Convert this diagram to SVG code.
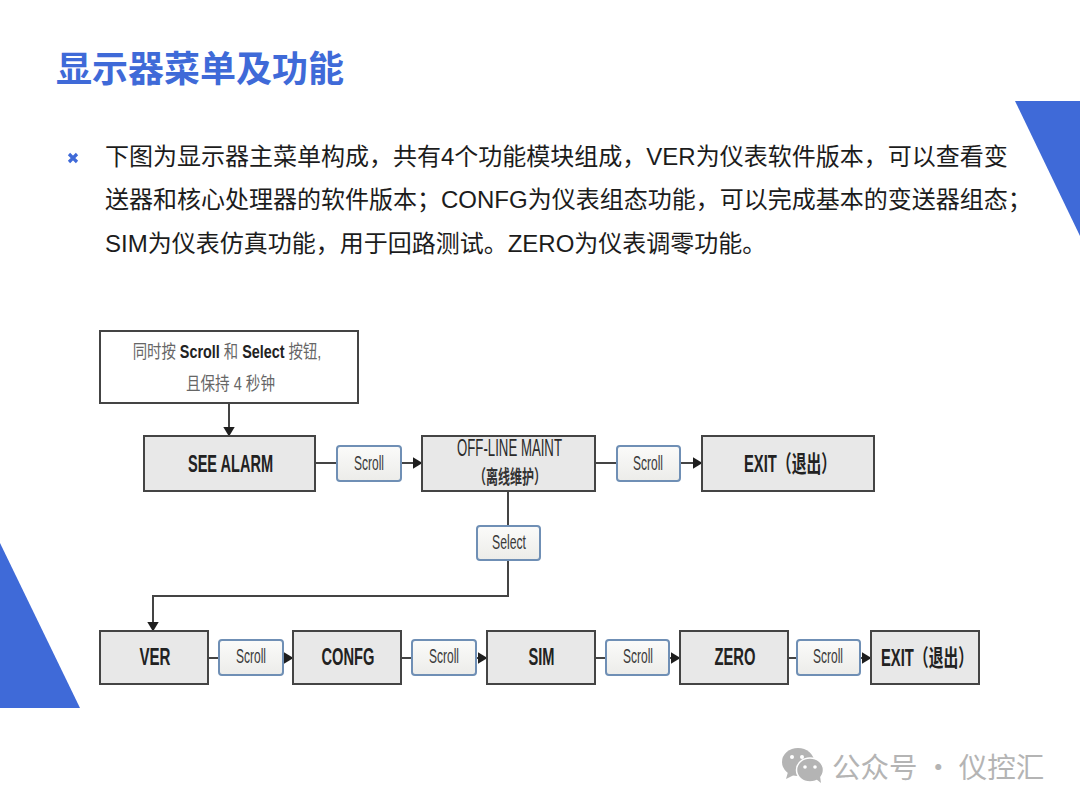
<svg xmlns="http://www.w3.org/2000/svg" width="1080" height="810" viewBox="0 0 1080 810">
<style>
text{font-family:"Liberation Sans","Noto Sans CJK SC",sans-serif}
.title{font-family:"Noto Sans CJK SC",sans-serif;font-size:36px;font-weight:700;fill:#3f6ad8}
.body{font-size:24px;fill:#1c1c1c}
.box{fill:#e8e8e8;stroke:#444;stroke-width:2}
.start{fill:#fff;stroke:#444;stroke-width:2}
.btn{fill:url(#btnfill);stroke:#6f8fb5;stroke-width:2}
.lbl{font-size:23px;font-weight:700;fill:#222;text-anchor:middle}
.sm{font-size:21px;fill:#3a3a3a;text-anchor:middle}
.cn{font-size:18px;fill:#666;text-anchor:middle}
.cnb{font-weight:700;fill:#222}
.wire{fill:none;stroke:#444;stroke-width:2}
.wm{font-family:"Noto Sans CJK SC",sans-serif;font-size:28.500px;fill:#b4b4b4}
</style>
<defs>
<linearGradient id="btnfill" x1="0" y1="0" x2="0" y2="1"><stop offset="0" stop-color="#fbfbfa"/><stop offset="1" stop-color="#ecece9"/></linearGradient>
<marker id="arr" viewBox="0 0 10 12" refX="9.500" refY="6" markerWidth="10" markerHeight="12" markerUnits="userSpaceOnUse" orient="auto"><path d="M0,0L10,6L0,12Z" fill="#1e1e1e"/></marker>
</defs>
<rect width="1080" height="810" fill="#fff"/>
<polygon points="1015,101 1080,101 1080,236" fill="#3f6ad8"/>
<polygon points="0,543 80,708 0,708" fill="#3f6ad8"/>
<text class="title" x="56" y="82">显示器菜单及功能</text>
<path d="M69,154L77,162M77,154L69,162" stroke="#3f6ad8" stroke-width="3.200" fill="none"/>
<text class="body" x="105" y="165">下图为显示器主菜单构成，共有4个功能模块组成，VER为仪表软件版本，可以查看变</text>
<text class="body" x="105" y="208">送器和核心处理器的软件版本；CONFG为仪表组态功能，可以完成基本的变送器组态；</text>
<text class="body" x="105" y="252">SIM为仪表仿真功能，用于回路测试。ZERO为仪表调零功能。</text>
<g id="connectors">
<path class="wire" d="M229,403V436" marker-end="url(#arr)"/>
<path class="wire" d="M315,463H422" marker-end="url(#arr)"/>
<path class="wire" d="M595,463H702" marker-end="url(#arr)"/>
<path class="wire" d="M508,491V596H153V631" marker-end="url(#arr)"/>
<path class="wire" d="M208,658H293" marker-end="url(#arr)"/>
<path class="wire" d="M401,658H487" marker-end="url(#arr)"/>
<path class="wire" d="M595,658H680" marker-end="url(#arr)"/>
<path class="wire" d="M788,658H871" marker-end="url(#arr)"/>
</g>
<g id="start"><rect class="start" x="100" y="331" width="258" height="72"/>
<text class="cn" transform="translate(227,358) scale(.8,1)">同时按 <tspan class="cnb">Scroll</tspan> 和 <tspan class="cnb">Select</tspan> 按钮,</text>
<text class="cn" x="230.500" y="390" textLength="89" lengthAdjust="spacingAndGlyphs">且保持 4 秒钟</text></g>
<g id="see-alarm"><rect class="box" x="144" y="436" width="171" height="55"/><text class="lbl" x="230.500" y="472" textLength="85" lengthAdjust="spacingAndGlyphs">SEE ALARM</text></g>
<g id="scroll-1"><rect class="btn" x="337" y="446" width="64" height="35" rx="3"/><text class="sm" x="369" y="470" textLength="30" lengthAdjust="spacingAndGlyphs">Scroll</text></g>
<g id="off-line"><rect class="box" x="422" y="436" width="173" height="55"/>
<text class="sm" x="509.500" y="456" textLength="105" lengthAdjust="spacingAndGlyphs" style="font-size:23px;fill:#2a2a2a">OFF-LINE MAINT</text>
<text class="sm" x="510" y="484" textLength="72" lengthAdjust="spacingAndGlyphs" style="font-size:19px;font-weight:700;fill:#333">（离线维护）</text></g>
<g id="scroll-2"><rect class="btn" x="617" y="446" width="63" height="35" rx="3"/><text class="sm" x="648" y="470" textLength="30" lengthAdjust="spacingAndGlyphs">Scroll</text></g>
<g id="exit-1"><rect class="box" x="702" y="436" width="172" height="55"/><text class="lbl" x="790" y="472" textLength="92" lengthAdjust="spacingAndGlyphs">EXIT（退出）</text></g>
<g id="select"><rect class="btn" x="477" y="526" width="63" height="34" rx="3"/><text class="sm" x="509" y="549" textLength="34" lengthAdjust="spacingAndGlyphs">Select</text></g>
<g id="ver"><rect class="box" x="100" y="631" width="108" height="53"/><text class="lbl" x="155" y="665" textLength="31" lengthAdjust="spacingAndGlyphs">VER</text></g>
<g id="scroll-3"><rect class="btn" x="219" y="640" width="64" height="35" rx="3"/><text class="sm" x="251" y="663" textLength="30" lengthAdjust="spacingAndGlyphs">Scroll</text></g>
<g id="confg"><rect class="box" x="293" y="631" width="108" height="53"/><text class="lbl" x="348" y="665" textLength="53" lengthAdjust="spacingAndGlyphs">CONFG</text></g>
<g id="scroll-4"><rect class="btn" x="412" y="640" width="64" height="35" rx="3"/><text class="sm" x="444" y="663" textLength="30" lengthAdjust="spacingAndGlyphs">Scroll</text></g>
<g id="sim"><rect class="box" x="487" y="631" width="108" height="53"/><text class="lbl" x="541.500" y="665" textLength="26" lengthAdjust="spacingAndGlyphs">SIM</text></g>
<g id="scroll-5"><rect class="btn" x="606" y="640" width="63" height="35" rx="3"/><text class="sm" x="638" y="663" textLength="30" lengthAdjust="spacingAndGlyphs">Scroll</text></g>
<g id="zero"><rect class="box" x="680" y="631" width="108" height="53"/><text class="lbl" x="735" y="665" textLength="41" lengthAdjust="spacingAndGlyphs">ZERO</text></g>
<g id="scroll-6"><rect class="btn" x="797" y="640" width="63" height="35" rx="3"/><text class="sm" x="828" y="663" textLength="30" lengthAdjust="spacingAndGlyphs">Scroll</text></g>
<g id="exit-2"><rect class="box" x="871" y="631" width="108" height="53"/><text class="lbl" x="927" y="666" textLength="92" lengthAdjust="spacingAndGlyphs">EXIT（退出）</text></g>
<g id="watermark">
<ellipse cx="798" cy="762" rx="16" ry="14" fill="#b4b4b4"/>
<path d="M788,772l-2,7 8,-4z" fill="#b4b4b4"/>
<ellipse cx="810" cy="770" rx="13.500" ry="12" fill="#b4b4b4" stroke="#fff" stroke-width="1.500"/>
<path d="M816,779l5,4 -1,-7z" fill="#b4b4b4"/>
<circle cx="792" cy="757" r="2" fill="#fff"/><circle cx="802" cy="757" r="2" fill="#fff"/>
<circle cx="805" cy="767" r="1.800" fill="#fff"/><circle cx="815" cy="767" r="1.800" fill="#fff"/>
<text class="wm" x="832" y="778">公众号 · 仪控汇</text>
</g>
</svg>
